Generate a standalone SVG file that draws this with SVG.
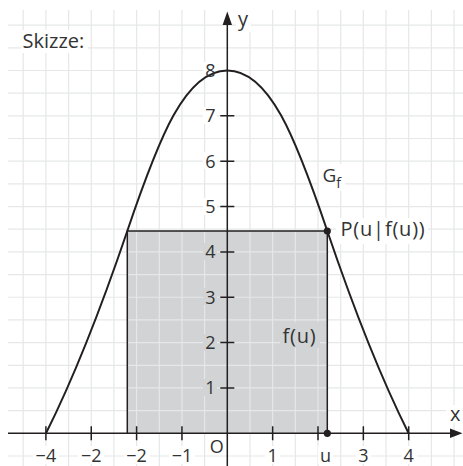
<svg xmlns="http://www.w3.org/2000/svg" width="463" height="466" viewBox="0 0 463 466">
<style>
.grid{stroke:#e6e7e8;stroke-width:1.2;fill:none}
.ax{stroke:#231f20;stroke-width:1.5;fill:none}
.curve{stroke:#231f20;stroke-width:2;fill:none}
.t{font-family:"Open Sans","Noto Sans",sans-serif;fill:#333;}
.num{font-size:18px}
.lbl{font-size:20px}
.sp{letter-spacing:0.8px}
.bg{fill:#fff}
</style>
<rect width="463" height="466" fill="#fff"/>
<rect id="area" x="127.3" y="231" width="200" height="202.3" fill="#d1d3d4"/>
<g id="grid">
<path class="grid" d="M23.2,10V466M45.9,10V466M68.6,10V466M91.25,10V466M113.9,10V466M136.6,10V466M159.3,10V466M181.95,10V466M204.6,10V466M250,10V466M272.65,10V466M295.3,10V466M318,10V466M340.7,10V466M363.35,10V466M386,10V466M408.7,10V466M431.4,10V466M454.05,10V466"/>
<path class="grid" d="M8,456H463M8,410.6H463M8,387.95H463M8,365.3H463M8,342.6H463M8,319.9H463M8,297.25H463M8,274.6H463M8,251.9H463M8,229.2H463M8,206.55H463M8,183.9H463M8,161.2H463M8,138.5H463M8,115.85H463M8,93.2H463M8,70.5H463M8,47.8H463M8,25.15H463"/>
</g>
<g id="label-bgs">
<rect class="bg" x="21" y="30" width="67" height="23"/>
<rect class="bg" x="236" y="10" width="15" height="22"/>
<rect class="bg" x="336" y="218" width="92" height="26"/>
<rect class="bg" x="319" y="164" width="26" height="27"/>
<rect class="bg" x="446" y="405" width="16" height="18"/>
<rect class="bg" x="203" y="62" width="14" height="17"/>
<rect class="bg" x="203" y="107" width="14" height="17"/>
<rect class="bg" x="203" y="152" width="14" height="17"/>
<rect class="bg" x="203" y="198" width="14" height="17"/>
<rect fill="#d1d3d4" x="203" y="243" width="14" height="17"/>
<rect fill="#d1d3d4" x="203" y="288" width="14" height="17"/>
<rect fill="#d1d3d4" x="203" y="334" width="14" height="17"/>
<rect fill="#d1d3d4" x="203" y="379" width="14" height="17"/>
<rect fill="#d1d3d4" x="280" y="322" width="40" height="26"/>
<rect class="bg" x="33" y="446" width="26" height="18"/>
<rect class="bg" x="78" y="446" width="26" height="18"/>
<rect class="bg" x="124" y="446" width="26" height="18"/>
<rect class="bg" x="169" y="446" width="26" height="18"/>
<rect class="bg" x="209" y="438" width="15" height="17"/>
<rect class="bg" x="265" y="446" width="15" height="18"/>
<rect class="bg" x="318" y="446" width="15" height="18"/>
<rect class="bg" x="356" y="446" width="15" height="18"/>
<rect class="bg" x="402" y="446" width="15" height="18"/>
</g>
<g id="graph">
<path class="curve" d="M46,433.3C73,379.3 100.3,310.6 127.3,231C159.3,136.6 185.3,70.5 227.3,70.5C269.3,70.5 295.3,136.6 327.3,231C354.3,310.6 381.6,379.3 408.6,433.3"/>
</g>
<g id="rectangle">
<path class="ax" d="M127.3,433.3V231H327.3V433.3"/>
</g>
<g id="connectors">
<path class="ax" d="M8,433.3H452"/>
<path class="ax" d="M227.3,466V24"/>
<polygon fill="#231f20" points="462.5,433.3 450,428.6 450,438"/>
<polygon fill="#231f20" points="227.3,11.5 222.6,25 232,25"/>
<path class="ax" d="M45.9,426.3v14M91.25,426.3v14M136.6,426.3v14M181.95,426.3v14M272.65,426.3v14M318,426.3v14M363.35,426.3v14M408.7,426.3v14"/>
<path class="ax" d="M220.3,387.95h14M220.3,342.6h14M220.3,297.25h14M220.3,251.9h14M220.3,206.55h14M220.3,161.2h14M220.3,115.85h14"/>
</g>
<g id="labels">
<text class="t lbl" x="22.5" y="48.3">Skizze:</text>
<text class="t lbl" x="238" y="25.5">y</text>
<text class="t lbl" x="450" y="420.7">x</text>
<g class="t num" text-anchor="end">
<text x="215.5" y="77.3">8</text>
<text x="215.5" y="122.2">7</text>
<text x="215.5" y="167.5">6</text>
<text x="215.5" y="212.9">5</text>
<text x="215.5" y="258.2">4</text>
<text x="215.5" y="303.6">3</text>
<text x="215.5" y="348.9">2</text>
<text x="215.5" y="394.3">1</text>
</g>
<g class="t num" text-anchor="middle">
<text x="45.9" y="461.7">−4</text>
<text x="91.25" y="461.7">−2</text>
<text x="136.6" y="461.7">−2</text>
<text x="181.95" y="461.7">−1</text>
<text x="216.7" y="452.7">O</text>
<text x="272.65" y="461.7">1</text>
<text x="325.5" y="461.7">u</text>
<text x="363.35" y="461.7">3</text>
<text x="408.7" y="461.7">4</text>
</g>
<text class="t" x="322.5" y="181.7" font-size="19">G<tspan font-size="14" dy="6">f</tspan></text>
<text class="t lbl sp" x="340.5" y="236">P(u|f(u))</text>
<text class="t lbl sp" x="282.5" y="343.3">f(u)</text>
</g>
<g id="points">
<circle cx="327.3" cy="231" r="3.6" fill="#231f20"/>
<circle cx="327.3" cy="433.3" r="3.6" fill="#231f20"/>
</g>
</svg>
